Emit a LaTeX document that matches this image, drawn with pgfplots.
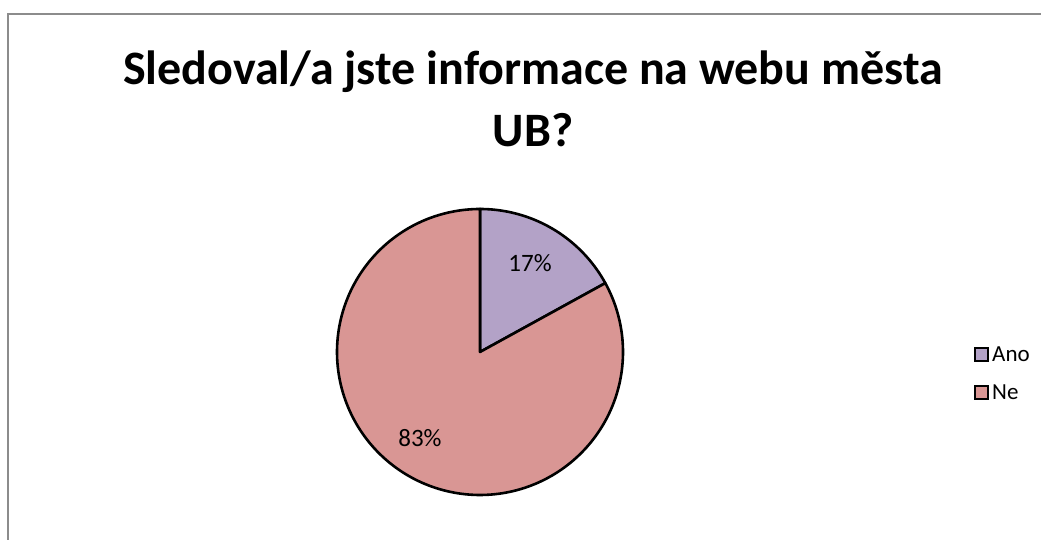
\documentclass[border=0pt]{standalone}
\usepackage{pgfplots}
\pgfplotsset{compat=1.18}
\usepackage{fontspec}
\setmainfont{Carlito}
\definecolor{anoC}{HTML}{B3A2C7}
\definecolor{neC}{HTML}{D99694}
\definecolor{frameC}{HTML}{8C8C8C}
% data (percent)
\def\valAno{17}
\def\valNe{83}
\begin{document}
\begin{tikzpicture}
\pgfmathsetmacro{\aEnd}{90-3.6*\valAno}
\begin{axis}[
  width=1041pt, height=540pt, scale only axis,
  xmin=0, xmax=1041, ymin=0, ymax=540,
  hide axis, clip=false,
]
% chart frame
\addplot[frameC, line width=1.5pt] coordinates {(8,0) (8,526) (1041,526)};
% title
\node[font=\fontsize{48}{56}\selectfont\bfseries, anchor=base] at (axis cs:533,455) {Sledoval/a jste informace na webu města};
\node[font=\fontsize{48}{56}\selectfont\bfseries, anchor=base] at (axis cs:533,393) {UB?};
% pie slices
\addplot[fill=anoC, draw=black, line width=2.6pt, domain=\aEnd:90, samples=90, line join=round]
  ({480+143*cos(x)},{188+143*sin(x)}) -- (axis cs:480,188) -- cycle;
\addplot[fill=neC, draw=black, line width=2.6pt, domain=-270:\aEnd, samples=200, line join=round]
  ({480+143*cos(x)},{188+143*sin(x)}) -- (axis cs:480,188) -- cycle;
% data labels
\node[font=\fontsize{25}{30}\selectfont] at (axis cs:530,277) {\valAno\%};
\node[font=\fontsize{25}{30}\selectfont] at (axis cs:420,102) {\valNe\%};
% legend
\draw[fill=anoC, draw=black, line width=2.4pt] (axis cs:975,179) rectangle (axis cs:988,192);
\draw[fill=neC, draw=black, line width=2.4pt] (axis cs:975,141) rectangle (axis cs:988,154);
\node[font=\fontsize{23}{27}\selectfont, anchor=west, inner sep=0pt] at (axis cs:992,186) {Ano};
\node[font=\fontsize{23}{27}\selectfont, anchor=west, inner sep=0pt] at (axis cs:992,148) {Ne};
\end{axis}
\pgfresetboundingbox
\path (0,0) rectangle (1041pt,540pt);
\end{tikzpicture}
\end{document}
